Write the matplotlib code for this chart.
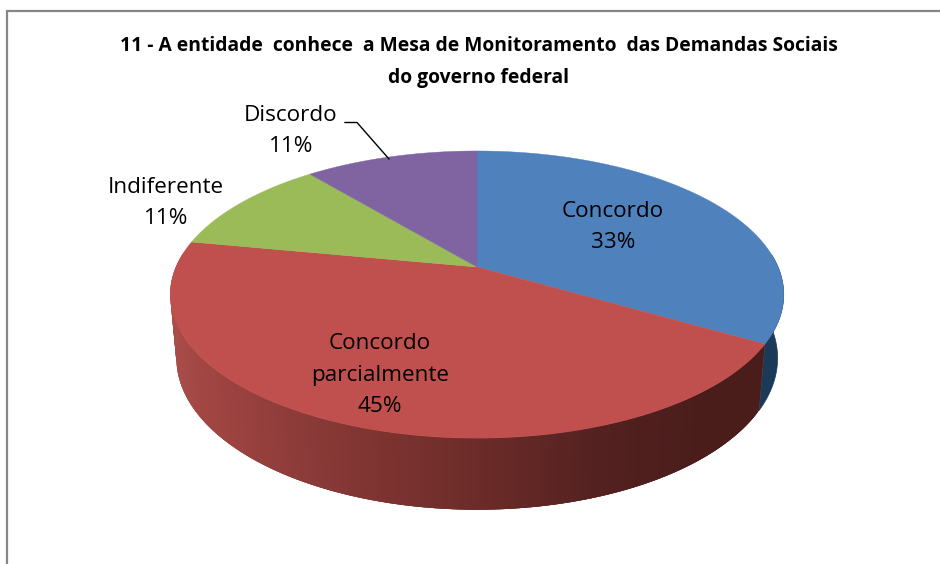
import numpy as np
import matplotlib
matplotlib.use("Agg")
import matplotlib.pyplot as plt
from matplotlib.colors import to_rgb

title = "11 - A entidade  conhece  a Mesa de Monitoramento  das Demandas Sociais\ndo governo federal"
categories = ["Concordo", "Concordo\nparcialmente", "Indiferente", "Discordo"]
values = [33.4, 44.6, 11, 11]
colors = ["#4f81bd", "#c0504d", "#9bbb59", "#8064a2"]

plt.rcParams["font.family"] = ["Open Sans", "DejaVu Sans"]

# pie geometry in pixels, the top disc has some perspective so its centre is not the ellipse centre
CX, CY, A, B, K = 477, 267, 301, 138.3, 0.192
CY2, A2, B2 = 329, 295, 146


def project(t, cy=CY, a=A, b=B):
    # t is the angle clockwise from 12 o'clock
    x, y = np.sin(t), np.cos(t)
    w = 1 + K * y
    return CX + a * x / w, cy - b * y / w


def side_color(x):
    stops_x = [170, 200, 300, 400, 500, 600, 700, 790]
    stops = [to_rgb(c) for c in ["#aa4e4b", "#a24643", "#8c3b39", "#7a322f", "#682a27", "#532120", "#4a1d1b", "#4a1d1b"]]
    return [np.interp(x, stops_x, [s[i] for s in stops]) for i in range(3)]


fig = plt.figure(figsize=(9.4, 5.64), dpi=100)
ax = fig.add_axes([0, 0, 1, 1])
ax.set_xlim(0, 940)
ax.set_ylim(564, 0)
ax.axis("off")

# chart frame, only left and top are in the crop
ax.plot([6.5, 6.5, 940], [564, 10.5, 10.5], color="#868686", lw=1.6, solid_joinstyle="miter")

edges = np.cumsum([0] + values) / sum(values) * 2 * np.pi

# blue side
ts = np.linspace(np.radians(85), edges[1], 30)
x1, y1 = project(ts)
x2, y2 = project(ts, CY2, A2, B2)
ax.fill(np.r_[x1, x2[::-1]], np.r_[y1, y2[::-1]], color="#1b3a57", lw=0.5, zorder=1)

# red side, drawn in overlapping slices so the gradient has no seams
ts = np.linspace(edges[1], np.radians(276), 200)
for j in range(len(ts) - 1):
    tt = ts[j:j + 4]
    x1, y1 = project(tt)
    x2, y2 = project(tt, CY2, A2, B2)
    c = side_color(x1[:2].mean())
    ax.fill(np.r_[x1, x2[::-1]], np.r_[y1, y2[::-1]], color=c, lw=0, zorder=2)

# top disc
for i in range(len(values)):
    tt = np.linspace(edges[i], edges[i + 1], 150)
    x, y = project(tt)
    ax.fill(np.r_[CX, x], np.r_[CY, y], color=colors[i], lw=0.3, zorder=3)

label_pos = [(613, 227), (380, 375), (166, 203), (291, 131)]
for cat, val, (lx, ly) in zip(categories, values, label_pos):
    ax.text(lx, ly, f"{cat}\n{val:.0f}%", ha="center", va="center", fontsize=16.2,
            color="black", linespacing=1.65, zorder=5)

# leader line for Discordo
ax.plot([345, 357, 389], [122.5, 122.5, 159], color="black", lw=1, zorder=4)

ax.text(479, 62, title, ha="center", va="center", fontsize=13.85, fontweight="bold",
        color="black", linespacing=1.85, zorder=5)

fig.savefig("out.png", dpi=100)
